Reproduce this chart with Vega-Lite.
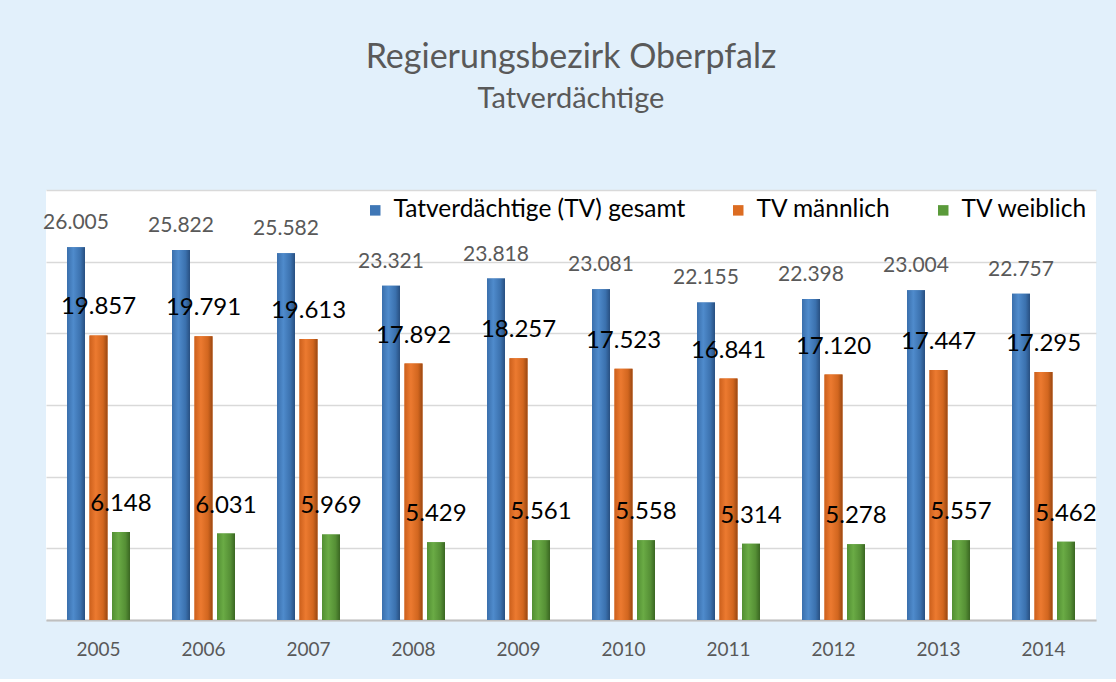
{
  "$schema": "https://vega.github.io/schema/vega-lite/v6.json",
  "width": 1050,
  "height": 430,
  "padding": {"left": 43, "top": 41, "right": 23, "bottom": 20},
  "autosize": {"type": "pad"},
  "background": "#e2f0fb",
  "title": {
    "text": "Regierungsbezirk Oberpfalz",
    "subtitle": "Tatverdächtige",
    "anchor": "middle",
    "font": "Lato",
    "fontSize": 34,
    "fontWeight": "normal",
    "color": "#595959",
    "subtitleFont": "Lato",
    "subtitleFontSize": 29,
    "subtitleColor": "#595959",
    "subtitlePadding": 10,
    "offset": 76
  },
  "config": {
    "locale": {"number": {"decimal": ",", "thousands": ".", "grouping": [3], "currency": ["", " €"]}},
    "view": {"stroke": null, "fill": "white"}
  },
  "data": {
    "values": [
      {"year": "2005", "series": "Tatverdächtige (TV) gesamt", "value": 26005},
      {"year": "2005", "series": "TV männlich", "value": 19857},
      {"year": "2005", "series": "TV weiblich", "value": 6148},
      {"year": "2006", "series": "Tatverdächtige (TV) gesamt", "value": 25822},
      {"year": "2006", "series": "TV männlich", "value": 19791},
      {"year": "2006", "series": "TV weiblich", "value": 6031},
      {"year": "2007", "series": "Tatverdächtige (TV) gesamt", "value": 25582},
      {"year": "2007", "series": "TV männlich", "value": 19613},
      {"year": "2007", "series": "TV weiblich", "value": 5969},
      {"year": "2008", "series": "Tatverdächtige (TV) gesamt", "value": 23321},
      {"year": "2008", "series": "TV männlich", "value": 17892},
      {"year": "2008", "series": "TV weiblich", "value": 5429},
      {"year": "2009", "series": "Tatverdächtige (TV) gesamt", "value": 23818},
      {"year": "2009", "series": "TV männlich", "value": 18257},
      {"year": "2009", "series": "TV weiblich", "value": 5561},
      {"year": "2010", "series": "Tatverdächtige (TV) gesamt", "value": 23081},
      {"year": "2010", "series": "TV männlich", "value": 17523},
      {"year": "2010", "series": "TV weiblich", "value": 5558},
      {"year": "2011", "series": "Tatverdächtige (TV) gesamt", "value": 22155},
      {"year": "2011", "series": "TV männlich", "value": 16841},
      {"year": "2011", "series": "TV weiblich", "value": 5314},
      {"year": "2012", "series": "Tatverdächtige (TV) gesamt", "value": 22398},
      {"year": "2012", "series": "TV männlich", "value": 17120},
      {"year": "2012", "series": "TV weiblich", "value": 5278},
      {"year": "2013", "series": "Tatverdächtige (TV) gesamt", "value": 23004},
      {"year": "2013", "series": "TV männlich", "value": 17447},
      {"year": "2013", "series": "TV weiblich", "value": 5557},
      {"year": "2014", "series": "Tatverdächtige (TV) gesamt", "value": 22757},
      {"year": "2014", "series": "TV männlich", "value": 17295},
      {"year": "2014", "series": "TV weiblich", "value": 5462}
    ]
  },
  "encoding": {
    "x": {
      "field": "year",
      "type": "nominal",
      "scale": {"paddingInner": 0.4, "paddingOuter": 0.2},
      "axis": {
        "title": null,
        "labelAngle": 0,
        "labelFont": "Lato",
        "labelFontSize": 19,
        "labelColor": "#595959",
        "ticks": false,
        "domainColor": "#bfbfbf",
        "domainWidth": 2,
        "labelPadding": 20
      }
    },
    "xOffset": {
      "field": "series",
      "type": "nominal",
      "scale": {
        "domain": ["Tatverdächtige (TV) gesamt", "TV männlich", "TV weiblich"],
        "paddingInner": 0.2,
        "paddingOuter": 0
      }
    },
    "y": {
      "field": "value",
      "type": "quantitative",
      "scale": {"domain": [0, 30000], "nice": false},
      "axis": {
        "values": [0, 5000, 10000, 15000, 20000, 25000, 30000],
        "labels": false,
        "ticks": false,
        "domain": false,
        "title": null,
        "gridColor": "#d9d9d9",
        "gridWidth": 1.5
      }
    }
  },
  "layer": [
    {
      "mark": {"type": "bar"},
      "encoding": {
        "color": {
          "field": "series",
          "type": "nominal",
          "scale": {
            "domain": ["Tatverdächtige (TV) gesamt", "TV männlich", "TV weiblich"],
            "range": ["#3f77b6", "#dc6c22", "#5a9a3a"]
          },
          "legend": {
            "orient": "top-right",
            "direction": "horizontal",
            "title": null,
            "labelFont": "Lato",
            "labelFontSize": 24.5,
            "labelColor": "black",
            "labelLimit": 400,
            "symbolType": "square",
            "symbolSize": 110,
            "symbolStrokeWidth": 0,
            "columnPadding": 40,
            "labelOffset": 6,
            "offset": 8
          }
        }
      }
    },
    {
      "transform": [{"filter": "datum.series == 'Tatverdächtige (TV) gesamt'"}],
      "mark": {"type": "bar", "color": {"gradient": "linear", "x1": 0, "y1": 0, "x2": 1, "y2": 0, "stops": [{"offset": 0, "color": "#3a6fac"}, {"offset": 0.35, "color": "#4f8bcc"}, {"offset": 0.75, "color": "#3b71ae"}, {"offset": 1, "color": "#284f80"}]}}
    },
    {
      "transform": [{"filter": "datum.series == 'TV männlich'"}],
      "mark": {"type": "bar", "color": {"gradient": "linear", "x1": 0, "y1": 0, "x2": 1, "y2": 0, "stops": [{"offset": 0, "color": "#cc601c"}, {"offset": 0.35, "color": "#ec7a30"}, {"offset": 0.75, "color": "#d2661f"}, {"offset": 1, "color": "#9a4812"}]}}
    },
    {
      "transform": [{"filter": "datum.series == 'TV weiblich'"}],
      "mark": {"type": "bar", "color": {"gradient": "linear", "x1": 0, "y1": 0, "x2": 1, "y2": 0, "stops": [{"offset": 0, "color": "#528f33"}, {"offset": 0.35, "color": "#6aab45"}, {"offset": 0.75, "color": "#558f35"}, {"offset": 1, "color": "#3a6622"}]}}
    },
    {
      "transform": [{"filter": "datum.series == 'Tatverdächtige (TV) gesamt'"}],
      "mark": {"type": "text", "font": "Lato", "fontSize": 21, "color": "#595959", "dy": -18, "baseline": "alphabetic"},
      "encoding": {"text": {"field": "value", "type": "quantitative", "format": ","}}
    },
    {
      "transform": [{"filter": "datum.series != 'Tatverdächtige (TV) gesamt'"}],
      "mark": {"type": "text", "font": "Lato", "fontSize": 24, "color": "black", "dy": -21, "baseline": "alphabetic"},
      "encoding": {"text": {"field": "value", "type": "quantitative", "format": ","}}
    }
  ]
}
